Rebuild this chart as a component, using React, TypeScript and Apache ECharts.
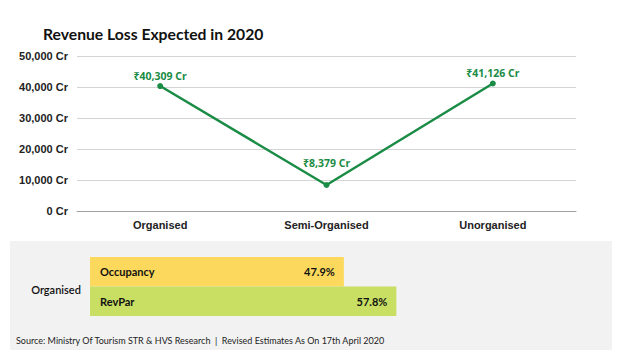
import React, { useEffect, useRef } from "react";
import * as echarts from "echarts";

const categories = ["Organised", "Semi-Organised", "Unorganised"];
const revenueLoss = [40309, 8379, 41126];
const metricNames = ["Occupancy", "RevPar"];
const metricValues = [47.9, 57.8];
const metricColors = ["#fcd95c", "#c8df64"];

export default function App() {
  const ref = useRef<HTMLDivElement>(null);
  useEffect(() => {
    document.body.style.margin = "0";
    const chart = echarts.init(ref.current!, undefined, { renderer: "svg" });
    const fmt = (v: number) => v.toLocaleString("en-US");
    chart.setOption({
      animation: false,
      backgroundColor: "#ffffff",
      graphic: [
        {
          type: "rect",
          z: -10,
          silent: true,
          shape: { x: 10, y: 241, width: 602, height: 109 },
          style: { fill: "#f2f2f2" },
        },
        {
          type: "text",
          left: 43,
          top: 26,
          style: {
            text: "Revenue Loss Expected in 2020",
            font: "bold 15.7px Lato",
            fill: "#111",
          },
        },
        {
          type: "text",
          x: 56,
          y: 289,
          style: {
            text: "Organised",
            font: "600 11px Lato",
            fill: "#111",
            align: "center",
            verticalAlign: "middle",
          },
        },
        {
          type: "text",
          x: 16,
          y: 340,
          style: {
            text: "Source: Ministry Of Tourism STR & HVS Research  |  Revised Estimates As On 17th April 2020",
            font: "9px Lato",
            fill: "#222",
            verticalAlign: "middle",
          },
        },
      ],
      grid: [
        { left: 77, right: 44, top: 56, height: 155 },
        { left: 90, top: 257, height: 59, width: 548.6 },
      ],
      xAxis: [
        {
          gridIndex: 0,
          type: "category",
          data: categories,
          boundaryGap: true,
          axisTick: { show: false },
          axisLine: { lineStyle: { color: "#a0a0a0" } },
          axisLabel: {
            margin: 8,
            fontSize: 11,
            fontWeight: "bold",
            color: "#222",
            fontFamily: "'Liberation Sans', Arial",
          },
        },
        {
          gridIndex: 1,
          type: "value",
          min: 0,
          max: 100,
          show: false,
        },
      ],
      yAxis: [
        {
          gridIndex: 0,
          type: "value",
          min: 0,
          max: 50000,
          interval: 10000,
          axisLine: { show: false },
          axisTick: { show: false },
          splitLine: { lineStyle: { color: "#d4d4d4" } },
          axisLabel: {
            margin: 9,
            fontSize: 11,
            fontWeight: "bold",
            color: "#222",
            fontFamily: "'Liberation Sans', Arial",
            formatter: (v: number) => fmt(v) + " Cr",
          },
        },
        {
          gridIndex: 1,
          type: "category",
          data: metricNames,
          inverse: true,
          show: false,
        },
      ],
      series: [
        {
          type: "line",
          xAxisIndex: 0,
          yAxisIndex: 0,
          data: revenueLoss.map((v, i) =>
            i === 1 ? { value: v, label: { distance: 14 } } : { value: v }
          ),
          symbol: "circle",
          symbolSize: 6,
          lineStyle: { color: "#1a8c45", width: 2.5 },
          itemStyle: { color: "#1a8c45" },
          label: {
            show: true,
            position: "top",
            distance: 2,
            fontSize: 10.5,
            fontWeight: "bold",
            color: "#1a8c45",
            fontFamily: "'Noto Sans'",
            formatter: (p: any) => "₹" + fmt(p.value) + " Cr",
          },
        },
        {
          type: "bar",
          xAxisIndex: 1,
          yAxisIndex: 1,
          barCategoryGap: 0,
          data: metricValues.map((v, i) => ({ value: v, itemStyle: { color: metricColors[i] } })),
          label: {
            show: true,
            position: "insideRight",
            distance: 9,
            fontSize: 11,
            fontWeight: "bold",
            color: "#111",
            fontFamily: "Lato",
            formatter: (p: any) => p.value + "%",
          },
        },
        {
          type: "bar",
          xAxisIndex: 1,
          yAxisIndex: 1,
          barCategoryGap: 0,
          barGap: "-100%",
          silent: true,
          data: metricValues,
          itemStyle: { color: "rgba(0,0,0,0)" },
          label: {
            show: true,
            position: "insideLeft",
            distance: 10,
            fontSize: 11,
            fontWeight: "bold",
            color: "#111",
            fontFamily: "Lato",
            formatter: (p: any) => p.name,
          },
        },
      ],
    });
    return () => chart.dispose();
  }, []);
  return <div ref={ref} style={{ width: 620, height: 360 }} />;
}
